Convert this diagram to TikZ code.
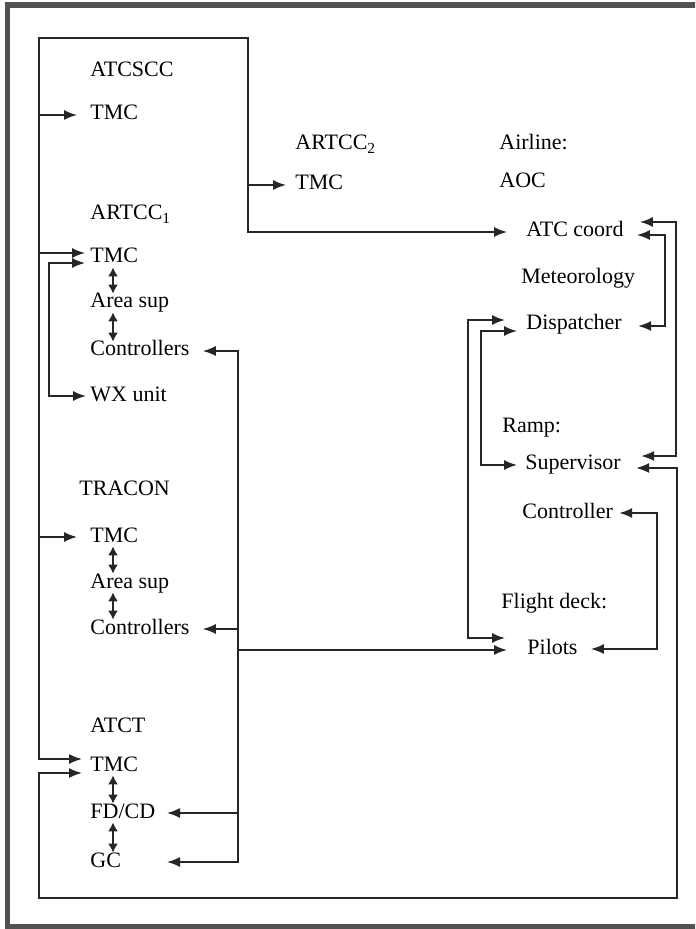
\documentclass[tikz,border=0pt]{standalone}
\usepackage{fontspec}
\setmainfont{Liberation Serif}
\usetikzlibrary{arrows.meta,calc}
\begin{document}
\begin{tikzpicture}[x=0.5pt,y=-0.5pt,
  every node/.style={font=\fontsize{11}{13}\selectfont},
  lbl/.style={anchor=west,inner sep=1pt,text height=7pt,text depth=2pt},
  link/.style={draw=black!85,line width=0.8pt,-{Latex[length=6.5pt,width=5pt]}},
  both/.style={link,{Latex[length=6.5pt,width=5pt]}-{Latex[length=6.5pt,width=5pt]}},
  updown/.style={draw=black!85,line width=0.8pt,{Latex[length=4.5pt,width=5pt]}-{Latex[length=4.5pt,width=5pt]},
    shorten <=-1pt,shorten >=-1pt},
  frame/.style={draw=black!68,line width=2.6pt}]
\clip (0,0) rectangle (695,929);
\draw[frame] (720,5) -- (7.5,5) -- (7.5,927) -- (720,927);
\node[lbl] (atcscc) at (88,72) {ATCSCC};
\node[lbl] (tmcS) at (88,115) {TMC};
\node[lbl] (artccA) at (88,215) {ARTCC\textsubscript{1}};
\node[lbl] (tmcA) at (88,258) {TMC};
\node[lbl] (areaA) at (88,303) {Area sup};
\node[lbl] (ctrlA) at (88,351) {Controllers};
\node[lbl] (wxA) at (88,396) {WX unit};
\node[lbl] (tracon) at (77,490) {TRACON};
\node[lbl] (tmcB) at (88,537) {TMC};
\node[lbl] (areaB) at (88,583) {Area sup};
\node[lbl] (ctrlB) at (88,629) {Controllers};
\node[lbl] (atct) at (88,727) {ATCT};
\node[lbl] (tmcC) at (88,766) {TMC};
\node[lbl] (fdcd) at (88,813) {FD/CD};
\node[lbl] (gc) at (88,862) {GC};
\node[lbl] (artccB) at (293,145) {ARTCC\textsubscript{2}};
\node[lbl] (tmcD) at (293,185) {TMC};
\node[lbl] (airline) at (497,145) {Airline:};
\node[lbl] (aoc) at (497,183) {AOC};
\node[lbl] (atccoord) at (524,232) {ATC coord};
\node[lbl] (meteo) at (519,279) {Meteorology};
\node[lbl] (disp) at (524,325) {Dispatcher};
\node[lbl] (ramp) at (500,427) {Ramp:};
\node[lbl] (sup) at (523,464) {Supervisor};
\node[lbl] (ctrlr) at (520,513) {Controller};
\node[lbl] (fdeck) at (499,603) {Flight deck:};
\node[lbl] (pilots) at (525,649) {Pilots};
\coordinate (nw) at (39,38);
\coordinate (ne) at (248,38);
\coordinate (rb) at (238,351);
\coordinate (sw) at (39,898);
\coordinate (se) at (677,898);
\coordinate (vx) at (113,0);
\draw[both] ($(tmcC.west)+(-6,-7)$) -| (nw) -- (ne) |- ($(atccoord.west)+(-17,0)$);
\draw[link] (nw |- tmcS) -- ($(tmcS.west)+(-11,0)$);
\draw[link] ($(nw |- tmcA)+(0,-5)$) -- ($(tmcA.west)+(-3,-5)$);
\draw[link] (nw |- tmcB) -- ($(tmcB.west)+(-11,0)$);
\draw[link] (ne |- tmcD) -- ($(tmcD.west)+(-7,0)$);
\draw[both] ($(tmcA.west)+(-3,5)$) -- ++(-36,0) |- ($(wxA.west)+(-2,0)$);
\draw[updown] (vx |- tmcA.south) -- (vx |- areaA.north);
\draw[updown] (vx |- areaA.south) -- (vx |- ctrlA.north);
\draw[updown] (vx |- tmcB.south) -- (vx |- areaB.north);
\draw[updown] (vx |- areaB.south) -- (vx |- ctrlB.north);
\draw[updown] (vx |- tmcC.south) -- (vx |- fdcd.north);
\draw[updown] (vx |- fdcd.south) -- (vx |- gc.north);
\draw[both] ($(ctrlA.east)+(11,0)$) -| (rb |- gc) -- ($(gc.west)+(79,0)$);
\draw[link] (rb |- ctrlB) -- ($(ctrlB.east)+(11,0)$);
\draw[link] (rb |- fdcd) -- ($(fdcd.west)+(79,0)$);
\draw[link] ($(rb |- pilots)+(0,1)$) -- ($(pilots.west)+(-18,1)$);
\draw[both] ($(tmcC.west)+(-6,7)$) -| (sw) -- (se) |- ($(sup.east)+(13,4)$);
\draw[both] ($(atccoord.east)+(14,-10)$) -- ++(36,0) |- ($(sup.east)+(18,-8)$);
\draw[both] ($(atccoord.east)+(11,3)$) -- ++(28,0) |- ($(disp.east)+(14,1)$);
\draw[both] ($(disp.west)+(-19,-5)$) -- ++(-37,0) |- ($(pilots.west)+(-20,-11)$);
\draw[both] ($(disp.west)+(-7,6)$) -- ++(-36,0) |- ($(sup.west)+(-6,1)$);
\draw[both] ($(ctrlr.east)+(4,0)$) -- ++(38,0) |- ($(pilots.east)+(11,0)$);
\end{tikzpicture}
\end{document}
